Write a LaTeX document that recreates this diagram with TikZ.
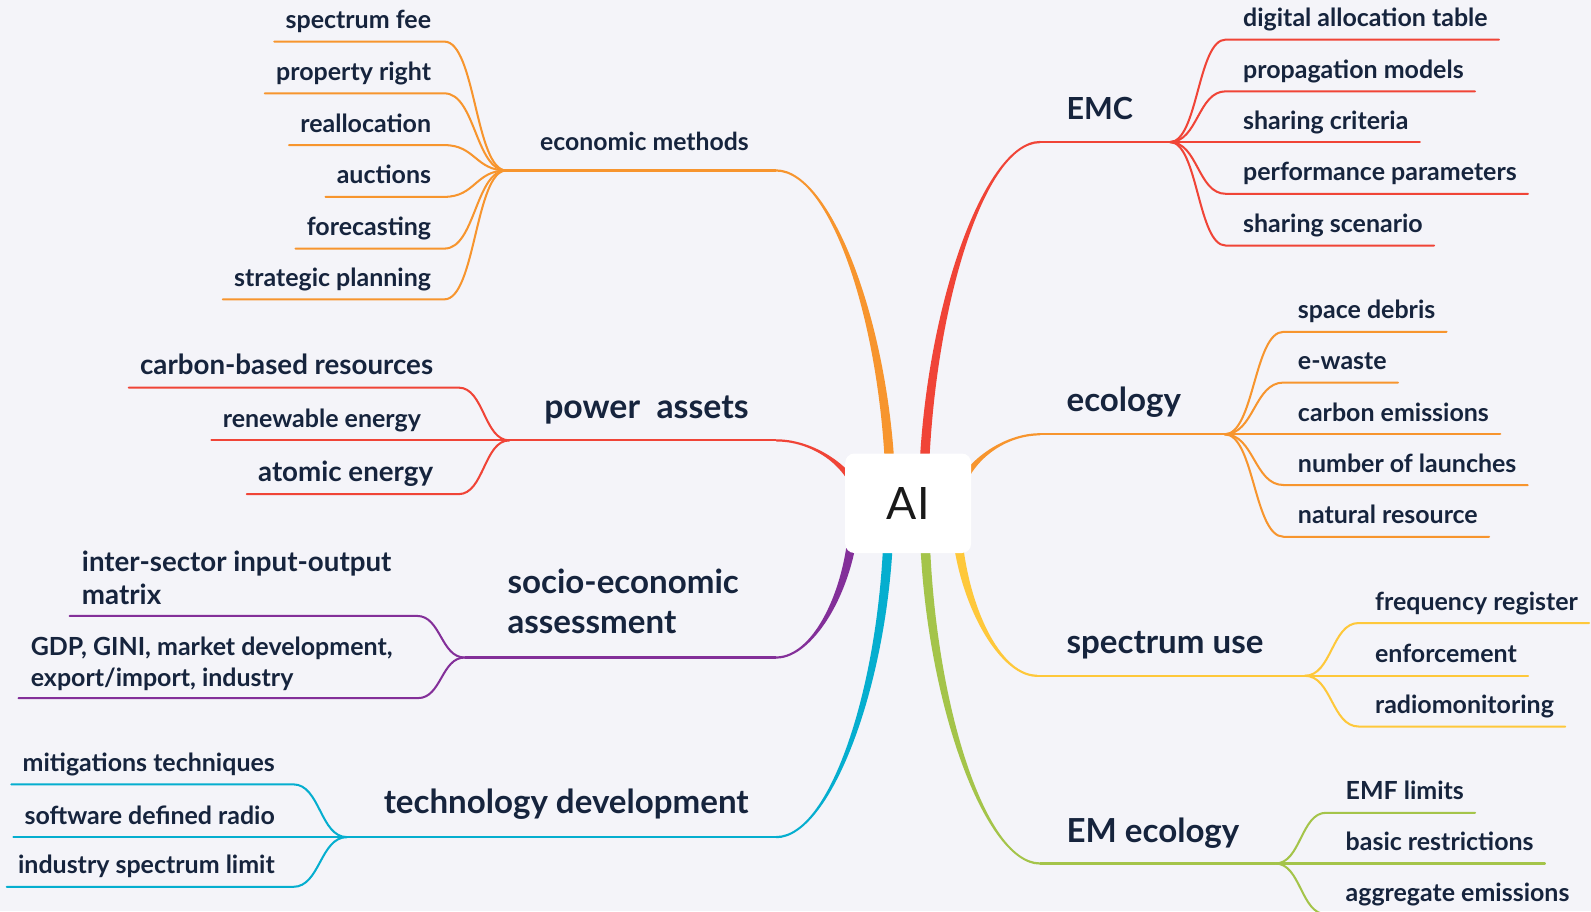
\documentclass[tikz,border=0pt]{standalone}
\usepackage{fontspec}
\setmainfont{Lato}
\usetikzlibrary{calc}

\definecolor{paper}{HTML}{F4F4F9}
\definecolor{ink}{HTML}{16243D}
\definecolor{cOrange}{HTML}{F7952E}
\definecolor{cRed}{HTML}{F04437}
\definecolor{cPurple}{HTML}{832F99}
\definecolor{cCyan}{HTML}{05AECF}
\definecolor{cYellow}{HTML}{FEC83B}
\definecolor{cGreen}{HTML}{A4C44A}

\pgfdeclarelayer{paperlayer}
\pgfdeclarelayer{edges}
\pgfsetlayers{paperlayer,edges,main}

\newcommand\leaffont{\fontsize{24.6}{31}\selectfont\bfseries}
\newcommand\bigleaffont{\fontsize{27.3}{33}\selectfont\bfseries}
\newcommand\headfont{\fontsize{32.6}{40}\selectfont\bfseries}

% tapered main branch: start inside the root, end where the stem begins
\newcommand\limb[5]{%
  \fill[#1] ($(#2)+(4.8,0)$)
    .. controls ($(#2)!0.5!(#2 |- #3)+(4.8,0)$) and ($(#3)!0.5!(#3 -| #2)+(0,#4)$)
    .. ($(#3)+(0,#4)$) -- ($(#3)+(0,#5)$)
    .. controls ($(#3)!0.5!(#3 -| #2)+(0,#5)$) and ($(#2)!0.5!(#2 |- #3)+(-4.8,0)$)
    .. ($(#2)+(-4.8,0)$) -- cycle;}
% leaf on the left: underline, then an S-curve into the hub
\newcommand\twigL[4]{%
  \path ($(#2.south east)+(#3,0)$) coordinate (#2-x);
  \draw[twig,#1] (#2.south west) -- (#2-x)
    .. controls ($(#2-x)!0.5!(#2-x -| #4)$) and ($(#4)!0.5!(#4 -| #2-x)$) .. (#4);}
% leaf on the right: S-curve out of the hub, then the underline
\newcommand\twigR[4]{%
  \path ($(#3.south west)+(-#4,0)$) coordinate (#3-x);
  \draw[twig,#1] (#2)
    .. controls ($(#2)!0.5!(#2 -| #3-x)$) and ($(#3-x)!0.5!(#3-x -| #2)$) .. (#3-x)
    -- (#3.south east);}

\begin{document}
\begin{tikzpicture}[x=1pt,y=-1pt,
  twig/.style={line width=2pt,line cap=round},
  stem/.style={line width=2.2pt},
  leaf/.style={font=\leaffont,text=ink,inner xsep=11pt,inner ysep=12.5pt,text depth=0pt},
  leafL/.style={leaf,anchor=south east},
  leafR/.style={leaf,anchor=south west},
  head/.style={font=\headfont,text=ink,inner sep=0pt},
  root/.style={rectangle,rounded corners=9pt,fill=white,minimum width=124pt,
    minimum height=98pt,inner sep=0pt,font=\fontsize{44}{50}\selectfont,text=black!90}]

\begin{pgfonlayer}{paperlayer}
  \fill[paper] (0,0) rectangle (1568,898);
\end{pgfonlayer}
\useasboundingbox (0,0) rectangle (1568,898);

% centre
\node[root] (root) at (895,496) {AI};

% where each main branch leaves the centre, where its stem starts, and its hub
\coordinate (sEcon) at ($(root.center)+(-17,4)$);
\coordinate (sPow)  at ($(root.center)+(-47,4)$);
\coordinate (sSoc)  at ($(root.center)+(-53,4)$);
\coordinate (sTech) at ($(root.center)+(-19,4)$);
\coordinate (sEMC)  at ($(root.center)+(15,4)$);
\coordinate (sEco)  at ($(root.center)+(47,4)$);
\coordinate (sSpec) at ($(root.center)+(47,4)$);
\coordinate (sEM)   at ($(root.center)+(16,4)$);

\coordinate (eEcon) at (765,168);  \coordinate (hEcon) at (499,168);
\coordinate (ePow)  at (765,434);  \coordinate (hPow)  at (502,434);
\coordinate (eSoc)  at (765,648);  \coordinate (hSoc)  at (458,648);
\coordinate (eTech) at (765,825);  \coordinate (hTech) at (342,825);
\coordinate (eEMC)  at (1025,140); \coordinate (hEMC)  at (1153,140);
\coordinate (eEco)  at (1025,428); \coordinate (hEco)  at (1207,428);
\coordinate (eSpec) at (1022,666); \coordinate (hSpec) at (1286,666);
\coordinate (eEM)   at (1025,851); \coordinate (hEM)   at (1257,851);

% branch titles
\node[head,font=\fontsize{24.4}{30}\selectfont\bfseries,anchor=base east] (tEcon) at (738,148) {economic methods};
\node[head,font=\fontsize{33.3}{40}\selectfont\bfseries,anchor=base east] (tPow) at (738,412) {power\ \ assets};
\node[head,align=left,text depth=0pt,anchor=south west] (tSoc) at (500,625) {socio-economic\\assessment};
\node[head,anchor=base east] (tTech) at (738,802) {technology development};
\node[head,font=\fontsize{30}{40}\selectfont\bfseries,anchor=base west] (tEMC) at (1051,118) {EMC};
\node[head,anchor=base west] (tEco) at (1051,406) {ecology};
\node[head,anchor=base west] (tSpec) at (1051,644) {spectrum use};
\node[head,anchor=base west] (tEM) at (1051,830) {EM ecology};

% economic methods
\node[leafL] (ec1) at (436,41)  {spectrum fee};
\node[leafL] (ec2) at (436,92)  {property right};
\node[leafL] (ec3) at (436,143) {reallocation};
\node[leafL] (ec4) at (436,194) {auctions};
\node[leafL] (ec5) at (436,245) {forecasting};
\node[leafL] (ec6) at (436,295) {strategic planning};

% power assets
\node[leafL,font=\bigleaffont] (pw1) at (438,382) {carbon-based resources};
\node[leafL] (pw2) at (426,434) {renewable energy};
\node[leafL,font=\bigleaffont] (pw3) at (438,487) {atomic energy};

% socio-economic assessment
\node[leafL,font=\bigleaffont,align=left,inner xsep=12pt,inner ysep=11pt] (so1) at (398,607) {inter-sector input-output\\matrix};
\node[leafL,align=left,inner xsep=12pt,inner ysep=11pt] (so2) at (399,688) {GDP, GINI, market development,\\export/import, industry};

% technology development
\node[leafL] (te1) at (282,773) {mitigations techniques};
\node[leafL] (te2) at (282,825) {software defined radio};
\node[leafL] (te3) at (282,874) {industry spectrum limit};

% EMC
\node[leafR] (em1) at (1214,39)  {digital allocation table};
\node[leafR] (em2) at (1214,90)  {propagation models};
\node[leafR] (em3) at (1214,140) {sharing criteria};
\node[leafR] (em4) at (1214,191) {performance parameters};
\node[leafR] (em5) at (1214,242) {sharing scenario};

% ecology
\node[leafR] (eco1) at (1268,327) {space debris};
\node[leafR] (eco2) at (1268,377) {e-waste};
\node[leafR] (eco3) at (1268,428) {carbon emissions};
\node[leafR] (eco4) at (1268,478) {number of launches};
\node[leafR] (eco5) at (1268,529) {natural resource};

% spectrum use
\node[leafR] (sp1) at (1344,614) {frequency register};
\node[leafR] (sp2) at (1344,666) {enforcement};
\node[leafR] (sp3) at (1344,716) {radiomonitoring};

% EM ecology
\node[leafR] (ee1) at (1315,801) {EMF limits};
\node[leafR] (ee2) at (1315,851) {basic restrictions};
\node[leafR] (ee3) at (1315,901) {aggregate emissions};

\begin{pgfonlayer}{edges}
  % main branches
  \limb{cOrange}{sEcon}{eEcon}{-1.1}{1.1}
  \limb{cRed}{sPow}{ePow}{-1.1}{1.1}
  \limb{cPurple}{sSoc}{eSoc}{1.1}{-1.1}
  \limb{cCyan}{sTech}{eTech}{1.1}{-1.1}
  \limb{cRed}{sEMC}{eEMC}{1.1}{-1.1}
  \limb{cOrange}{sEco}{eEco}{1.1}{-1.1}
  \limb{cYellow}{sSpec}{eSpec}{-1.1}{1.1}
  \limb{cGreen}{sEM}{eEM}{-1.1}{1.1}

  % stems under the titles
  \draw[stem,cOrange] (eEcon) -- (hEcon);
  \draw[stem,cRed]    (ePow)  -- (hPow);
  \draw[stem,cPurple] (eSoc)  -- (hSoc);
  \draw[stem,cCyan]   (eTech) -- (hTech);
  \draw[stem,cRed]    (eEMC)  -- (hEMC);
  \draw[stem,cOrange] (eEco)  -- (hEco);
  \draw[stem,cYellow] (eSpec) -- (hSpec);
  \draw[stem,cGreen]  (eEM)   -- (hEM);

  % leaves
  \twigL{cOrange}{ec1}{2}{hEcon}
  \twigL{cOrange}{ec2}{2}{hEcon}
  \twigL{cOrange}{ec3}{2}{hEcon}
  \twigL{cOrange}{ec4}{2}{hEcon}
  \twigL{cOrange}{ec5}{2}{hEcon}
  \twigL{cOrange}{ec6}{2}{hEcon}

  \twigL{cRed}{pw1}{14}{hPow}
  \twigL{cRed}{pw2}{14}{hPow}
  \twigL{cRed}{pw3}{14}{hPow}

  \twigL{cPurple}{so1}{13}{hSoc}
  \twigL{cPurple}{so2}{13}{hSoc}

  \twigL{cCyan}{te1}{7}{hTech}
  \twigL{cCyan}{te2}{7}{hTech}
  \twigL{cCyan}{te3}{7}{hTech}

  \twigR{cRed}{hEMC}{em1}{6}
  \twigR{cRed}{hEMC}{em2}{6}
  \twigR{cRed}{hEMC}{em3}{6}
  \twigR{cRed}{hEMC}{em4}{6}
  \twigR{cRed}{hEMC}{em5}{6}

  \twigR{cOrange}{hEco}{eco1}{3}
  \twigR{cOrange}{hEco}{eco2}{3}
  \twigR{cOrange}{hEco}{eco3}{3}
  \twigR{cOrange}{hEco}{eco4}{3}
  \twigR{cOrange}{hEco}{eco5}{3}

  \twigR{cYellow}{hSpec}{sp1}{5}
  \twigR{cYellow}{hSpec}{sp2}{5}
  \twigR{cYellow}{hSpec}{sp3}{5}

  \twigR{cGreen}{hEM}{ee1}{8}
  \twigR{cGreen}{hEM}{ee2}{8}
  \twigR{cGreen}{hEM}{ee3}{8}
\end{pgfonlayer}
\end{tikzpicture}
\end{document}
